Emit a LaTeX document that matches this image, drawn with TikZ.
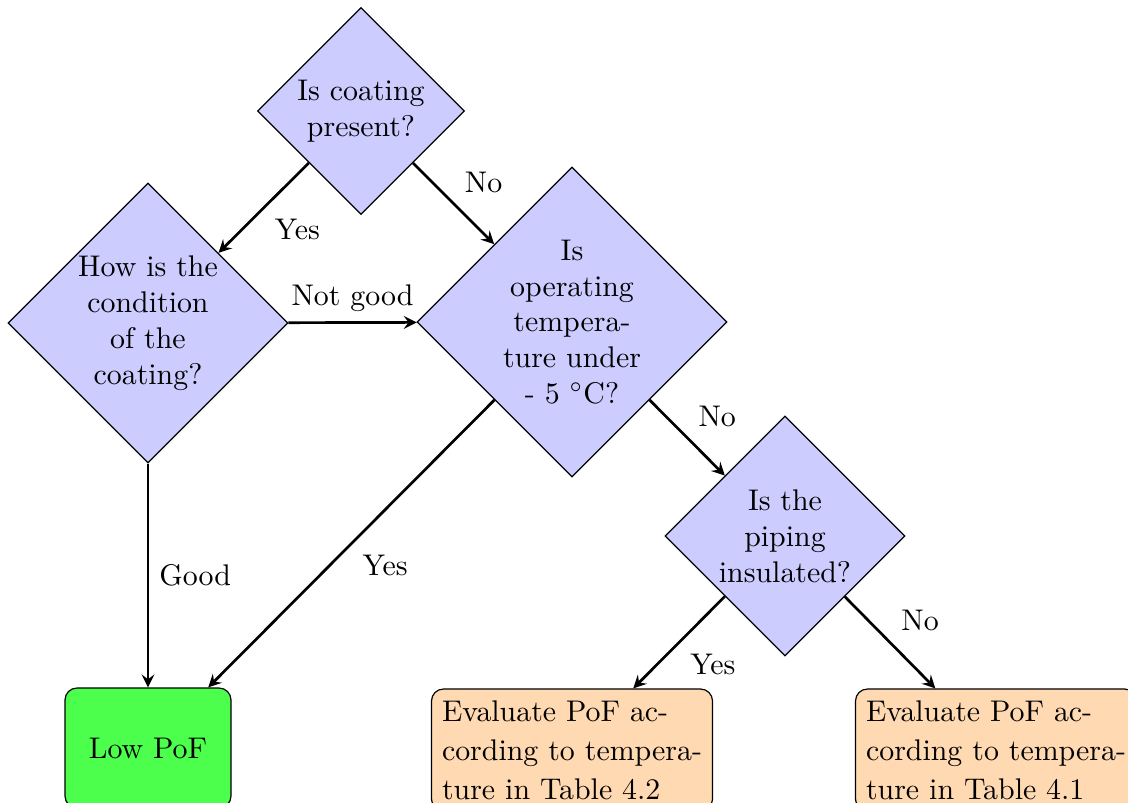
\documentclass[tikz,border=0pt]{standalone}
\usetikzlibrary{shapes.geometric}
\def\pu{0.3347pt}
\begin{document}
\begin{tikzpicture}[x=\pu, y=-\pu,
  dec/.style={diamond, draw=black, fill=blue!20, aspect=1, inner sep=0pt, align=center},
  lowbox/.style={rectangle, rounded corners, draw=black, fill=green!70, minimum width=166*\pu, minimum height=120*\pu},
  evbox/.style={rectangle, rounded corners, draw=black, fill=orange!30, align=left, minimum width=281*\pu, minimum height=122*\pu},
  arr/.style={line width=0.9pt, ->, >=stealth}]
\useasboundingbox (0,0) rectangle (1128,802);
\node[dec, minimum size=207*\pu] (d1) at (361,111) {Is coating\\present?};
\node[dec, minimum size=280*\pu] (d2) at (148,323) {How is the\\condition\\of the\\coating?};
\node[dec, minimum size=310*\pu] (d3) at (572,322) {Is\\operating\\tempera-\\ture under\\- 5 $^\circ$C?};
\node[dec, minimum size=240*\pu] (d4) at (785,536) {Is the\\piping\\insulated?};
\node[lowbox] (low) at (148,748) {Low PoF};
\node[evbox] (e1) at (572,750) {Evaluate PoF ac-\\[1pt]cording to tempera-\\[1pt]ture in Table 4.2};
\node[evbox] (e2) at (996,750) {Evaluate PoF ac-\\[1pt]cording to tempera-\\[1pt]ture in Table 4.1};
\draw[arr] (d1) -- node[below right] {Yes} (d2);
\draw[arr] (d1) -- node[above right] {No} (d3);
\draw[arr] (d2) -- node[above] {Not good} (d3);
\draw[arr] (d2) -- node[right] {Good} (low);
\draw[arr] (d3) -- node[below right] {Yes} (low);
\draw[arr] (d3) -- node[above right] {No} (d4);
\draw[arr] (d4) -- node[below right] {Yes} (e1);
\draw[arr] (d4) -- node[above right] {No} (e2);
\end{tikzpicture}
\end{document}
